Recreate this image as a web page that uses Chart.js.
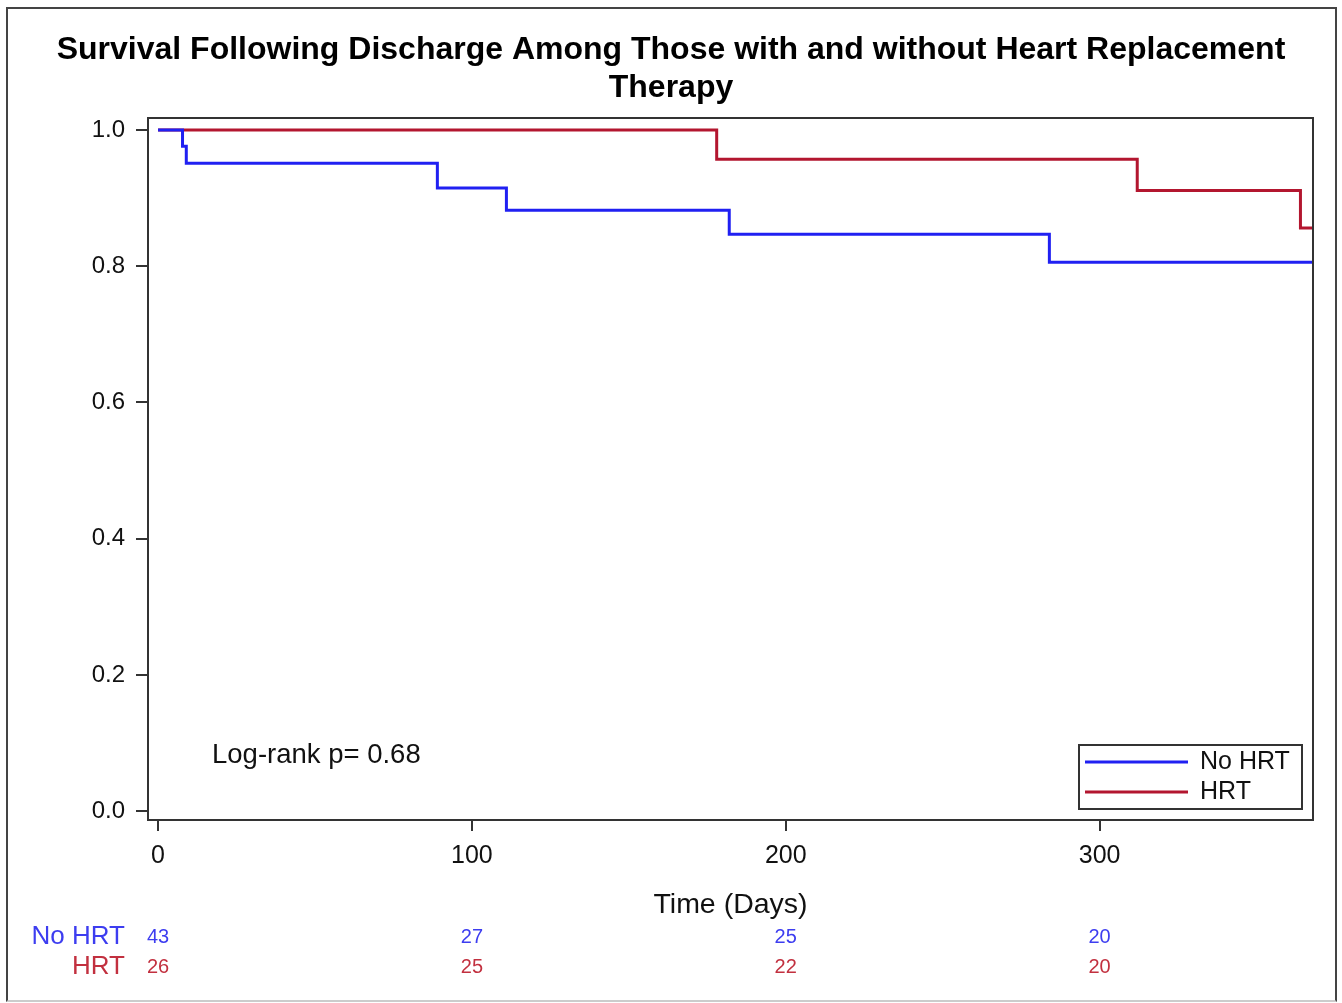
<!DOCTYPE html>
<html>
<head>
<meta charset="utf-8">
<script src="https://cdn.jsdelivr.net/npm/chart.js@4.4.1/dist/chart.umd.min.js"></script>
<style>
    html, body { margin: 0; padding: 0; background: #fff; }
    #wrap { position: relative; width: 1342px; height: 1003px; }
    #km { position: absolute; left: 0; top: 0; }
    #frame {
        position: absolute; left: 6px; top: 7px; width: 1331px; height: 995px;
        border: 2px solid #444; border-bottom-color: #ccc;
        box-sizing: border-box; pointer-events: none;
    }
</style>
</head>
<body>
<div id="wrap">
    <canvas id="km" width="1342" height="1003"></canvas>
    <div id="frame"></div>
</div>
<script>
    // Kaplan-Meier steps (day, survival)
    const noHrtDays = [0, 7.8, 9, 89, 111, 182, 284, 368];
    const noHrtSurv = [1, 0.976, 0.951, 0.915, 0.882, 0.847, 0.806, 0.806];
    const hrtDays = [0, 178, 312, 364, 368];
    const hrtSurv = [1, 0.957, 0.911, 0.856, 0.856];

    // number at risk table
    const riskDays = [0, 100, 200, 300];
    const noHrtRisk = [43, 27, 25, 20];
    const hrtRisk = [26, 25, 22, 20];

    const xTicks = [0, 100, 200, 300];
    const yTicks = [0, 0.2, 0.4, 0.6, 0.8, 1.0];

    const seriesNames = ['No HRT', 'HRT'];
    const blue = '#2020f2';
    const red = '#b3162f';
    const blueText = '#3d3df0';
    const redText = '#c2303f';
    const FONT = '"Liberation Sans", Arial, sans-serif';

    const toPoints = (days, surv) => days.map((d, i) => ({x: d, y: surv[i]}));

    const extrasPlugin = {
        id: 'kmExtras',
        afterDraw(chart) {
            const ctx = chart.ctx;
            const area = chart.chartArea;
            const xScale = chart.scales.x;

            ctx.save();
            // plot frame
            ctx.strokeStyle = '#333';
            ctx.lineWidth = 2;
            ctx.strokeRect(area.left, area.top, area.right - area.left, area.bottom - area.top);

            // log-rank text
            ctx.fillStyle = '#111';
            ctx.font = '27.5px ' + FONT;
            ctx.textAlign = 'left';
            ctx.textBaseline = 'middle';
            ctx.fillText('Log-rank p= 0.68', area.left + 64, area.bottom - 65);

            // legend box
            const lw = 223, lh = 64;
            const lx = area.right - 11 - lw, ly = area.bottom - 11 - lh;
            ctx.fillStyle = '#fff';
            ctx.fillRect(lx, ly, lw, lh);
            ctx.strokeStyle = '#333';
            ctx.lineWidth = 2;
            ctx.strokeRect(lx, ly, lw, lh);
            [blue, red].forEach((c, i) => {
                const yy = ly + 17 + i * 30;
                ctx.strokeStyle = c;
                ctx.lineWidth = 3;
                ctx.beginPath();
                ctx.moveTo(lx + 6, yy);
                ctx.lineTo(lx + 109, yy);
                ctx.stroke();
                ctx.fillStyle = '#111';
                ctx.font = '25px ' + FONT;
                ctx.textAlign = 'left';
                ctx.fillText(seriesNames[i], lx + 121, yy);
            });

            // at-risk table
            const rows = [
                {name: seriesNames[0], vals: noHrtRisk, color: blueText, y: area.bottom + 117},
                {name: seriesNames[1], vals: hrtRisk, color: redText, y: area.bottom + 147}
            ];
            rows.forEach(row => {
                ctx.fillStyle = row.color;
                ctx.font = '26px ' + FONT;
                ctx.textAlign = 'right';
                ctx.fillText(row.name, area.left - 23, row.y);
                ctx.font = '20px ' + FONT;
                ctx.textAlign = 'center';
                row.vals.forEach((v, i) => {
                    ctx.fillText(String(v), xScale.getPixelForValue(riskDays[i]), row.y);
                });
            });
            ctx.restore();
        }
    };

    new Chart(document.getElementById('km'), {
        type: 'line',
        data: {
            datasets: [
                {
                    label: seriesNames[0],
                    data: toPoints(noHrtDays, noHrtSurv),
                    borderColor: blue,
                    borderWidth: 3,
                    pointRadius: 0,
                    stepped: true,
                    fill: false
                },
                {
                    label: seriesNames[1],
                    data: toPoints(hrtDays, hrtSurv),
                    borderColor: red,
                    borderWidth: 3,
                    pointRadius: 0,
                    stepped: true,
                    fill: false
                }
            ]
        },
        options: {
            responsive: false,
            animation: false,
            layout: {padding: {left: 29, right: 29, top: 0, bottom: 80}},
            plugins: {
                legend: {display: false},
                tooltip: {enabled: false},
                title: {
                    display: true,
                    text: ['Survival Following Discharge Among Those with and without Heart Replacement', 'Therapy'],
                    color: '#000',
                    font: {size: 32, weight: 'bold', family: FONT, lineHeight: '38px'},
                    padding: {top: 31, bottom: 11}
                }
            },
            scales: {
                x: {
                    type: 'linear',
                    min: -3.2,
                    max: 368,
                    afterBuildTicks: scale => { scale.ticks = xTicks.map(v => ({value: v})); },
                    afterFit: scale => { scale.height = 103; },
                    border: {display: false},
                    grid: {drawOnChartArea: false, drawTicks: true, tickLength: 11, color: '#333', lineWidth: 2},
                    ticks: {color: '#111', font: {size: 25, family: FONT}, padding: 10, maxRotation: 0},
                    title: {
                        display: true,
                        text: 'Time (Days)',
                        color: '#111',
                        font: {size: 28.5, family: FONT, lineHeight: 1.2},
                        padding: {top: 4, bottom: 1}
                    }
                },
                y: {
                    min: -0.013,
                    max: 1.0176,
                    afterBuildTicks: scale => { scale.ticks = yTicks.map(v => ({value: v})); },
                    afterFit: scale => { scale.width = 119; },
                    border: {display: false},
                    grid: {drawOnChartArea: false, drawTicks: true, tickLength: 12, color: '#333', lineWidth: 2},
                    ticks: {
                        color: '#111',
                        font: {size: 24, family: FONT},
                        padding: 11,
                        callback: v => v.toFixed(1)
                    }
                }
            }
        },
        plugins: [extrasPlugin]
    });
</script>
</body>
</html>
